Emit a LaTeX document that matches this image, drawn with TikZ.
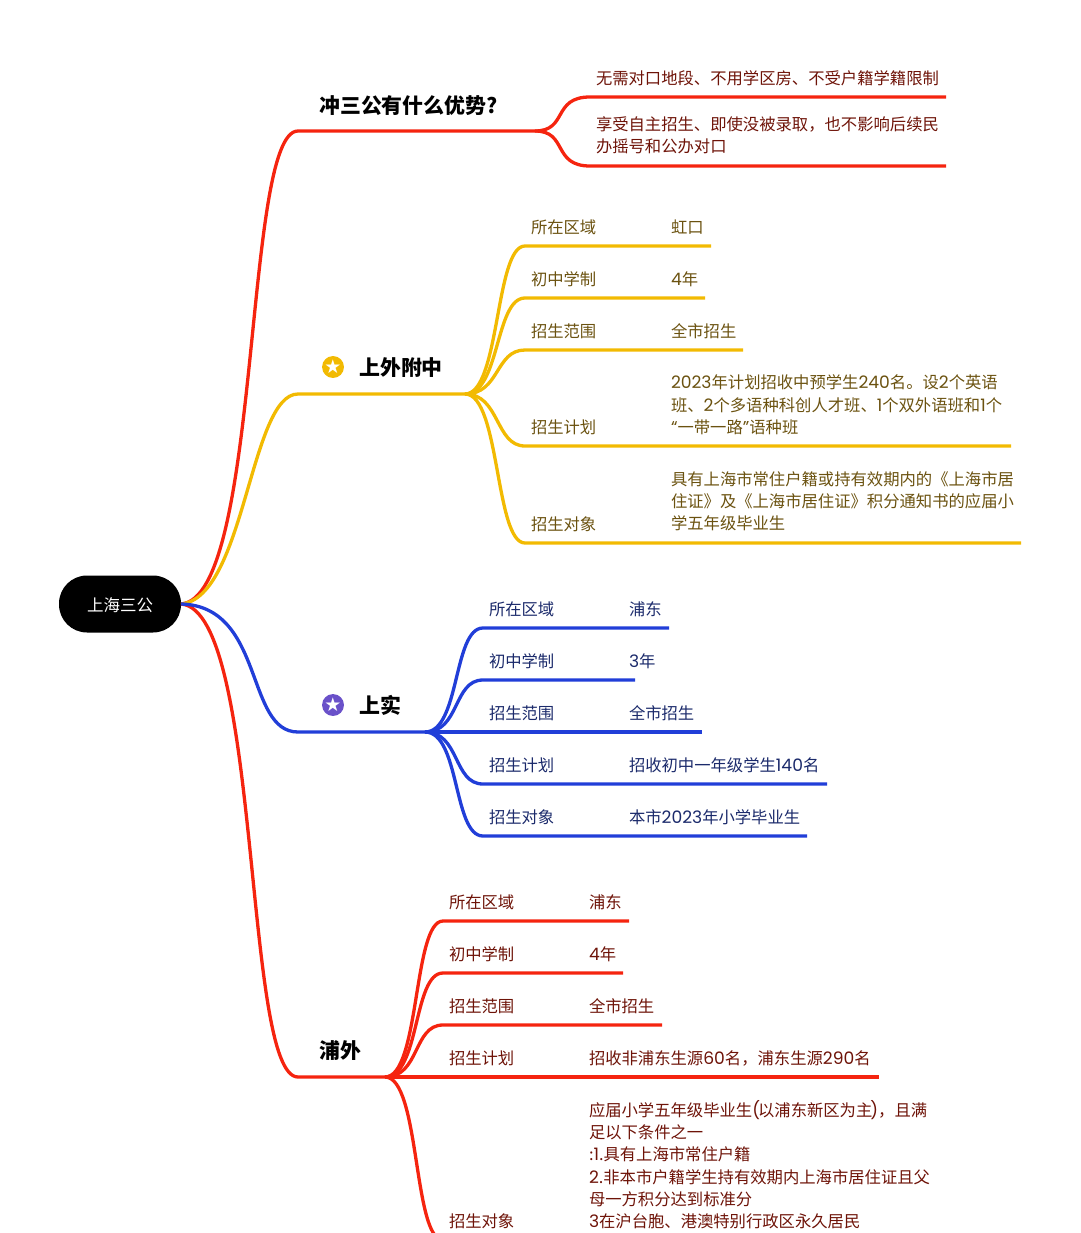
\documentclass[tikz,border=0pt]{standalone}
\usepackage{fontspec}
\setmainfont{Noto Sans CJK SC}
\newfontfamily\latf[Scale=1.05]{Poppins}
\usetikzlibrary{shapes.geometric}
\definecolor{cred}{HTML}{F5240F}
\definecolor{cyel}{HTML}{F2BA02}
\definecolor{cblu}{HTML}{213ED8}
\definecolor{tred}{HTML}{6E1308}
\definecolor{tyel}{HTML}{6B5210}
\definecolor{tblu}{HTML}{1B2A6B}
\definecolor{cpur}{HTML}{6A51C9}
\tikzset{
 lbl/.style={anchor=base west,inner sep=0,outer sep=0,font=\fontsize{16.33}{22}\selectfont,align=left},
 head/.style={anchor=base west,inner sep=0,font=\fontsize{20.9}{24}\selectfont\bfseries,text=black},
 br/.style={line width=3.3pt,line cap=butt,line join=round},
 rootn/.style={fill=black,rounded corners=28pt,minimum width=122pt,minimum height=57pt,inner sep=0,text=white,font=\fontsize{16.5}{20}\selectfont},
 badge/.style={circle,minimum size=21pt,inner sep=0,text=white}
}
\begin{document}
\begin{tikzpicture}[x=1pt,y=-1pt]
\useasboundingbox (0,0) rectangle (1080,1233);
\node[rootn,text depth=0pt] (root) at (120,604) {\raisebox{-1.5pt}{上海三公}};
\coordinate (r) at (181,604);
% level 1
\coordinate (a1) at (298,131); \coordinate (a2) at (535,131);
\coordinate (b1) at (298,394); \coordinate (b2) at (465,394);
\coordinate (c1) at (298,732); \coordinate (c2) at (425,732);
\coordinate (d1) at (298,1077); \coordinate (d2) at (385,1077);
\draw[br,cred] (r) .. controls (262,598) and (243,131) .. (a1) -- (a2);
\draw[br,cyel] (r) .. controls (245,598) and (250,394) .. (b1) -- (b2);
\draw[br,cred] (r) .. controls (262,610) and (243,1077) .. (d1) -- (d2);
\draw[br,cblu] (r) .. controls (265,606) and (245,732) .. (c1) -- (c2);
\node[head] (t1) at (319,113.7) {冲三公有什么优势?};
\node[head] (t2) at (359,375) {上外附中};
\node[head] (t3) at (359,713) {上实};
\node[head] (t4) at (319,1058.8) {浦外};
\node[badge,fill=cyel] (s2) at (333,367) {\fontspec{DejaVu Sans}\fontsize{19}{19}\selectfont ★};
\node[badge,fill=cpur] (s3) at (333,705) {\fontspec{DejaVu Sans}\fontsize{19}{19}\selectfont ★};
% group A
\foreach \y/\e in {97/946,166/946}{
 \draw[br,cred] (a2) .. controls (568,131) and (552,\y) .. (590,\y) -- (\e,\y);}
\node[lbl,text=tred] (a1t) at (596,85) {无需对口地段、不用学区房、不受户籍学籍限制};
\node[lbl,text=tred] (a2t) at (596,131) {享受自主招生、即使没被录取，也不影响后续民};
\node[lbl,text=tred] (a3t) at (596,153) {办摇号和公办对口};
% group B
\foreach \y/\e in {246/711,298/705,350/743,446/1011,543/1021}{
 \draw[br,cyel] (b2) .. controls (500,394) and (495,\y) .. (525,\y) -- (\e,\y);}
\node[lbl,text=tyel] at (531,234) {所在区域};
\node[lbl,text=tyel] at (671,234) {虹口};
\node[lbl,text=tyel] at (531,285.5) {初中学制};
\node[lbl,text=tyel] at (671,285.5) {{\latf 4}年};
\node[lbl,text=tyel] at (531,337.5) {招生范围};
\node[lbl,text=tyel] at (671,337.5) {全市招生};
\node[lbl,text=tyel] at (531,433.5) {招生计划};
\node[lbl,text=tyel] at (671,388.5) {{\latf 2023}年计划招收中预学生{\latf 240}名。设{\latf 2}个英语};
\node[lbl,text=tyel] at (671,411) {班、{\latf 2}个多语种科创人才班、{\latf 1}个双外语班和{\latf 1}个};
\node[lbl,text=tyel] at (671,433.5) {{\latf “}一带一路{\latf ”}语种班};
\node[lbl,text=tyel] at (531,530) {招生对象};
\node[lbl,text=tyel] at (671,485.5) {具有上海市常住户籍或持有效期内的《上海市居};
\node[lbl,text=tyel] at (671,507.5) {住证》及《上海市居住证》积分通知书的应届小};
\node[lbl,text=tyel] at (671,529.5) {学五年级毕业生};
% group C
\foreach \y/\e in {628/669,680/635,732/702,784/827,836/807}{
 \draw[br,cblu] (c2) .. controls (460,732) and (453,\y) .. (483,\y) -- (\e,\y);}
\node[lbl,text=tblu] at (489,615.5) {所在区域};
\node[lbl,text=tblu] at (629,615.5) {浦东};
\node[lbl,text=tblu] at (489,667.5) {初中学制};
\node[lbl,text=tblu] at (629,667.5) {{\latf 3}年};
\node[lbl,text=tblu] at (489,719.5) {招生范围};
\node[lbl,text=tblu] at (629,719.5) {全市招生};
\node[lbl,text=tblu] at (489,771.5) {招生计划};
\node[lbl,text=tblu] at (629,771.5) {招收初中一年级学生{\latf 140}名};
\node[lbl,text=tblu] at (489,823.5) {招生对象};
\node[lbl,text=tblu] at (629,823.5) {本市{\latf 2023}年小学毕业生};
% group D
\foreach \y/\e in {921/629,973/623,1025/662,1077/879}{
 \draw[br,cred] (d2) .. controls (420,1077) and (413,\y) .. (443,\y) -- (\e,\y);}
\draw[br,cred] (d2) .. controls (420,1077) and (413,1240) .. (443,1240);
\node[lbl,text=tred] at (449,908.5) {所在区域};
\node[lbl,text=tred] at (589,908.5) {浦东};
\node[lbl,text=tred] at (449,960.5) {初中学制};
\node[lbl,text=tred] at (589,960.5) {{\latf 4}年};
\node[lbl,text=tred] at (449,1012.5) {招生范围};
\node[lbl,text=tred] at (589,1012.5) {全市招生};
\node[lbl,text=tred] at (449,1064.5) {招生计划};
\node[lbl,text=tred] at (589,1064.5) {招收非浦东生源{\latf 60}名，浦东生源{\latf 290}名};
\node[lbl,text=tred] at (449,1227) {招生对象};
\node[lbl,text=tred] at (589,1116) {应届小学五年级毕业生{\latf (}\kern-2pt 以浦东新区为主\kern-2pt{\latf )}，且满};
\node[lbl,text=tred] at (589,1138) {足以下条件之一};
\node[lbl,text=tred] at (589,1160) {:{\latf 1}.具有上海市常住户籍};
\node[lbl,text=tred] at (589,1183) {{\latf 2}.非本市户籍学生持有效期内上海市居住证且父};
\node[lbl,text=tred] at (589,1205) {母一方积分达到标准分};
\node[lbl,text=tred] at (589,1227) {{\latf 3}在沪台胞、港澳特别行政区永久居民};
\end{tikzpicture}
\end{document}
